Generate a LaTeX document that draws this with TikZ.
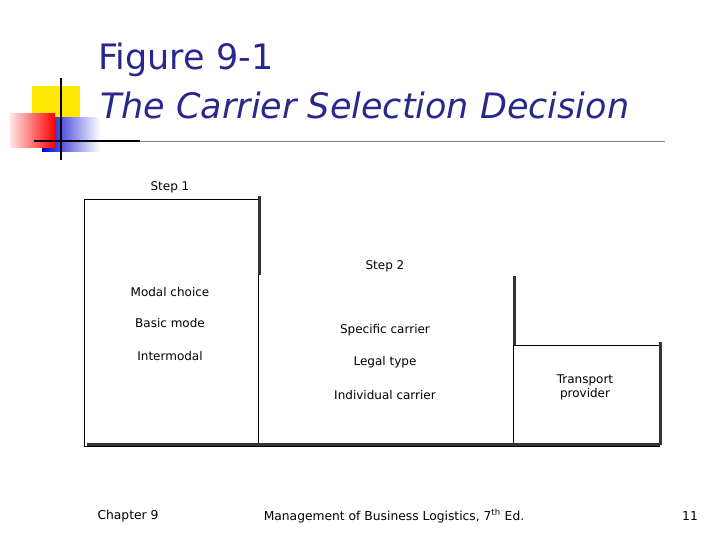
\documentclass[tikz,border=0pt]{standalone}
\usepackage{fontspec}
\setmainfont{DejaVu Sans}
\usetikzlibrary{positioning}
\definecolor{titleblue}{RGB}{40,40,140}
\tikzstyle{steplabel}=[font=\fontsize{12}{14}\selectfont, inner sep=0]
\tikzstyle{item}=[font=\fontsize{12}{14}\selectfont, inner sep=0, align=center]
\tikzstyle{footer}=[font=\fontsize{12.3}{14}\selectfont, inner sep=0]
\tikzstyle{shade}=[line width=2.5pt, black!80]
\begin{document}
\begin{tikzpicture}[x=1pt, y=-1pt]
        \useasboundingbox (0, 0) rectangle (720, 540);
        % decoration
        \fill[yellow!90!orange] (32, 86) rectangle (80, 130);
        \shade[left color=blue!80!black, right color=white] (42, 118) rectangle (100, 152);
        \shade[left color=red!10, right color=red] (10, 114) rectangle (55, 148);
        \draw[line width=1.5pt] (61, 78) -- (61, 160);
        \draw[line width=1.5pt] (34, 141) -- (140, 141);
        \draw[black!50, line width=0.8pt] (140, 141) -- (665, 141);
        % title
        \node[titleblue, font=\fontsize{35}{40}\selectfont, anchor=west, inner sep=0] (fig) at (98, 60) {Figure 9-1};
        \node[titleblue, font=\fontsize{35}{40}\selectfont\itshape, anchor=west, inner sep=0] (title) at (100, 105) {The Carrier Selection Decision};
        % diagram
        \coordinate (s1tl) at (84, 199);
        \coordinate (s1tr) at (258, 199);
        \coordinate (s1br) at (258, 446);
        \coordinate (s1bl) at (84, 446);
        \coordinate (s2tr) at (513, 276);
        \coordinate (s2br) at (513, 446);
        \coordinate (s3tr) at (659, 345);
        \coordinate (s3br) at (659, 446);
        \draw[line width=0.8pt] (s1bl) -- (s1tl) -- (s1tr) -- (s1br);
        \draw[line width=0.8pt] (s1bl) -- (s3br) -- (s3tr) -- (s3tr -| s2tr);
        \draw[line width=0.8pt] (s2tr) -- (s2br);
        \draw[shade] ([xshift=1.5pt, yshift=3pt]s1tr) -- ([xshift=1.5pt]258, 275);
        \draw[shade] ([xshift=1.5pt]s2tr) -- ([xshift=1.5pt]513, 345);
        \draw[shade] ([xshift=1.5pt, yshift=3pt]s3tr) -- ([xshift=1.5pt, yshift=1.5pt]s3br);
        \draw[shade] ([xshift=3pt, yshift=1.5pt]s1bl) -- ([yshift=1.5pt]s3br);
        \node[steplabel] (step1) at (170, 187) {Step 1};
        \node[steplabel] (step2) at (385, 266) {Step 2};
        \node[item] (modal) at (170, 292) {Modal choice};
        \node[item] (basic) at (170, 323) {Basic mode};
        \node[item] (inter) at (170, 356) {Intermodal};
        \node[item] (specific) at (385, 330) {Specific carrier};
        \node[item] (legal) at (385, 362) {Legal type};
        \node[item] (indiv) at (385, 395) {Individual carrier};
        \node[item] (provider) at (585, 387) {Transport\\provider};
        % footer
        \node[footer] (chap) at (128, 516) {Chapter 9};
        \node[footer] (book) at (394, 516) {Management of Business Logistics, 7\textsuperscript{th} Ed.};
        \node[footer] (page) at (690, 516) {11};
\end{tikzpicture}
\end{document}
